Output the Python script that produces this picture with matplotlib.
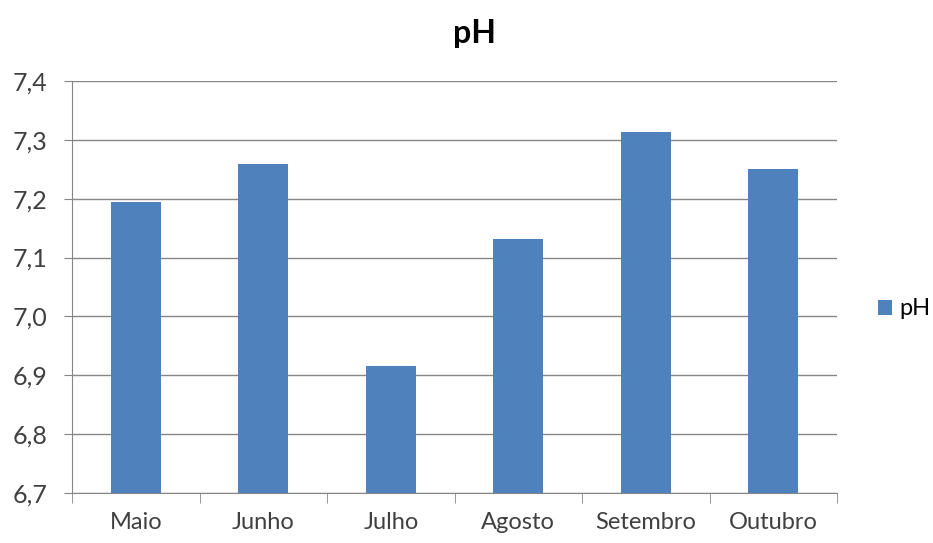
import matplotlib
matplotlib.use("Agg")
import matplotlib.pyplot as plt
import numpy as np

# dados
meses = ["Maio", "Junho", "Julho", "Agosto", "Setembro", "Outubro"]
ph_valores = [7.195, 7.259, 6.915, 7.132, 7.314, 7.251]
y_ticks = [6.7, 6.8, 6.9, 7.0, 7.1, 7.2, 7.3, 7.4]
y_labels = ["6,7", "6,8", "6,9", "7,0", "7,1", "7,2", "7,3", "7,4"]

plt.rcParams["font.family"] = ["Lato", "DejaVu Sans"]

fig = plt.figure(figsize=(9.33, 5.43), dpi=100)
ax = fig.add_axes([0.0772, 0.092, 0.82, 0.759])

x = np.arange(len(meses))
ax.bar(x, ph_valores, width=0.39, color="#4F81BD", label="pH", zorder=3)

ax.set_xlim(-0.5, len(meses) - 0.5)
ax.set_ylim(6.7, 7.4)
ax.set_yticks(y_ticks)
ax.set_yticklabels(y_labels, fontsize=18, color="#404040")
ax.set_xticks(x)
ax.set_xticklabels(meses, fontsize=17, color="#404040")
ax.set_xticks(np.arange(len(meses) + 1) - 0.5, minor=True)
ax.tick_params(axis="x", which="major", length=0, pad=14)
ax.tick_params(axis="x", which="minor", length=7, color="#868686", direction="out")
ax.tick_params(axis="y", length=6, color="#868686", direction="out", pad=12)

ax.grid(axis="y", color="#868686", linewidth=1, zorder=0)
for s in ["top", "right"]:
    ax.spines[s].set_visible(False)
for s in ["left", "bottom"]:
    ax.spines[s].set_color("#868686")

fig.text(0.509, 0.939, "pH", fontsize=23, fontweight="bold", ha="center", va="center")

ax.legend(loc="center left", bbox_to_anchor=(0.941, 0.431), bbox_transform=fig.transFigure,
          frameon=False, borderpad=0, borderaxespad=0,
          fontsize=17, handlelength=0.6, handleheight=0.6, handletextpad=0.3)

plt.savefig("out.png", dpi=100)
